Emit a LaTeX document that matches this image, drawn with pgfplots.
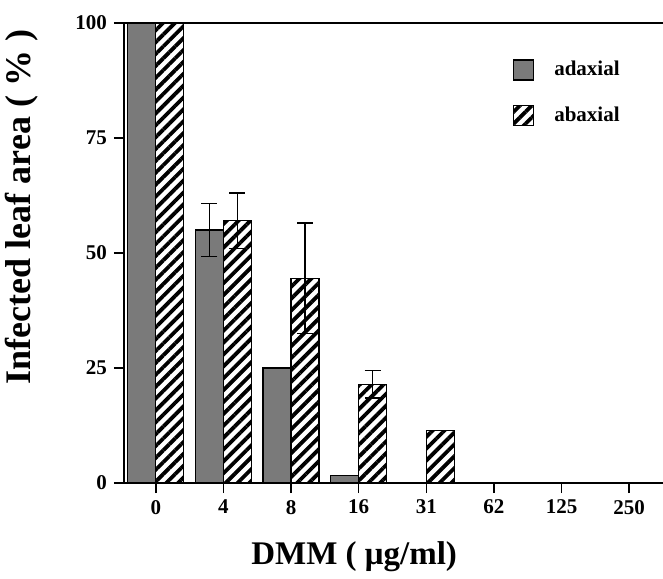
\documentclass[border=0pt]{standalone}
\usepackage{fontspec}
\setmainfont{Liberation Serif}
\usepackage{pgfplots}
\pgfplotsset{compat=1.18}
\usetikzlibrary{patterns.meta}

\begin{document}
\begin{tikzpicture}
\path[use as bounding box] (-62pt,-47.5pt) rectangle (269.5pt,241.5pt);
\begin{axis}[
  scale only axis, width=269.5pt, height=230pt,
  ybar=0pt, bar width=14pt,
  xmin=-0.47, xmax=7.5, ymin=0, ymax=100,
  axis x line=box, axis y line=left,
  axis line style={-, line width=0.8pt},
  xtick={0,...,7}, xticklabels={0,4,8,16,31,62,125,250},
  ytick={0,25,50,75,100},
  tick align=outside, major tick length=5pt,
  tick style={line width=0.8pt, black},
  xtick pos=bottom, ytick pos=left,
  /pgf/number format/assume math mode=true,
  ticklabel style={font=\bfseries\fontsize{10.5}{12}\selectfont},
  xlabel={DMM ( μg/ml)}, ylabel={Infected leaf area ( \% )},
  xlabel style={font=\bfseries\fontsize{16.5}{19}\selectfont, at={(ticklabel cs:0.427,7pt)}, anchor=north},
  ylabel style={font=\bfseries\fontsize{18}{20}\selectfont, at={(ticklabel cs:0.6,12pt)}, anchor=south},
  legend style={draw=none, fill=none, at={(rel axis cs:0.71,0.935)}, anchor=north west,
    font=\bfseries\fontsize{10.5}{12}\selectfont, row sep=10pt},
  legend image code/.code={\draw[#1] (0pt,-5pt) rectangle (10pt,5pt);},
  error bars/y dir=both, error bars/y explicit,
  error bars/error bar style={line width=0.7pt, black},
  error bars/error mark options={rotate=90, mark size=4pt, line width=0.7pt, black},
]
\addplot[draw=black, line width=0.6pt, fill=black!52] coordinates {
  (0,100) (1,55) +- (0,5.8) (2,25) (3,1.7)
};
\addplot[draw=black, line width=0.6pt, fill=white,
  pattern={Lines[angle=45, distance=4.2pt, line width=1.9pt]}] coordinates {
  (0,100) (1,57) +- (0,6) (2,44.5) +- (0,12) (3,21.5) +- (0,3) (4,11.5)
};
\legend{\hspace*{8pt}adaxial,\hspace*{8pt}abaxial}
\end{axis}
\end{tikzpicture}
\end{document}
